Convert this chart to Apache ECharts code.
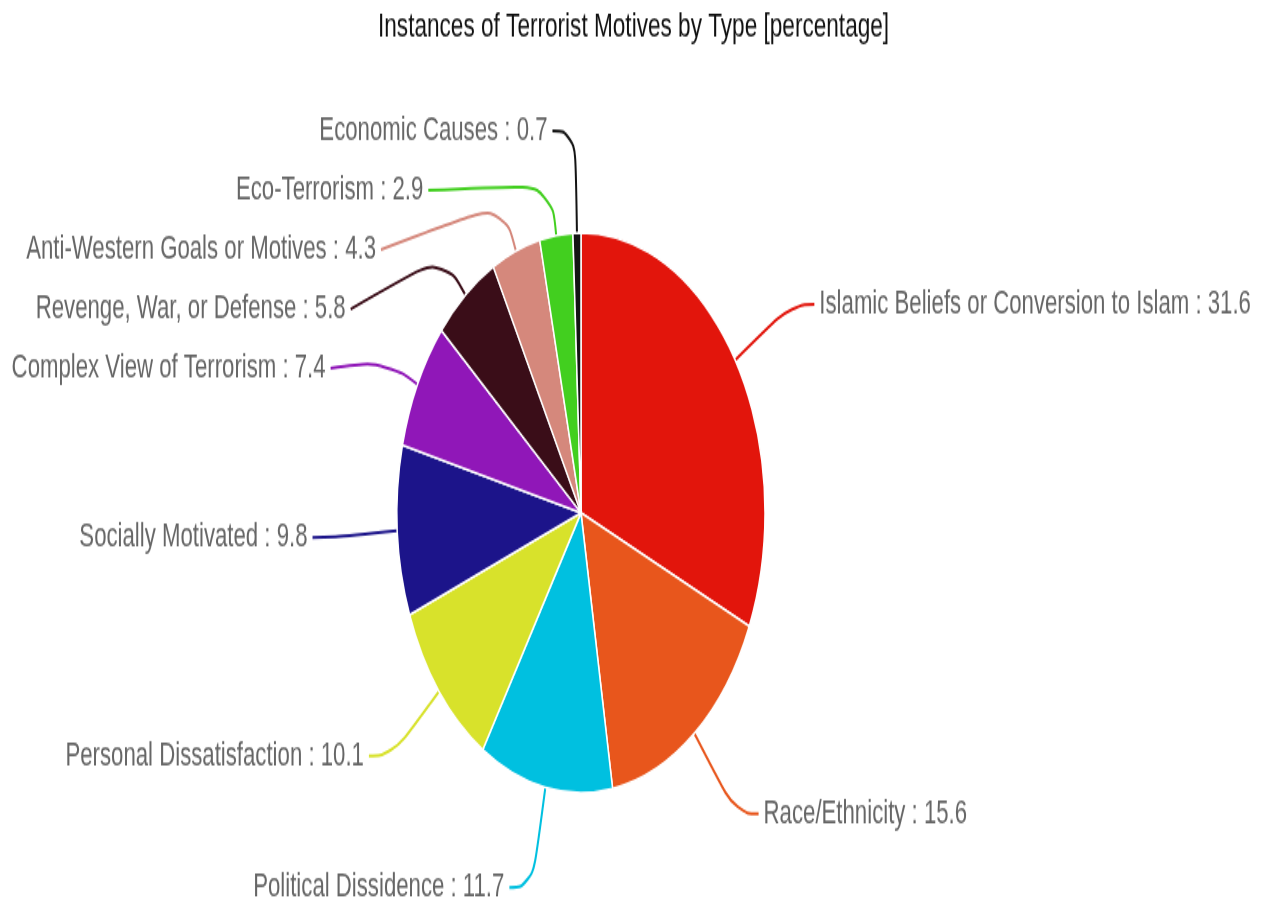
<!DOCTYPE html>
<html>
<head>
<meta charset="utf-8">
<title>Instances of Terrorist Motives by Type</title>
<script src="https://cdn.jsdelivr.net/npm/echarts@6/dist/echarts.min.js"></script>
<style>
  html, body { margin: 0; padding: 0; background: #ffffff; }
  #frame { position: relative; width: 1272px; height: 905px; overflow: hidden; }
  /* The chart is drawn on a shorter canvas and stretched vertically. */
  #chart { position: absolute; left: 0; top: 0; width: 1272px; height: 625px;
           transform: scaleY(1.5217); transform-origin: 0 0; }
</style>
</head>
<body>
<div id="frame"><div id="chart"></div></div>
<script>
// Motive categories, clockwise from 12 o'clock
const motives = [
  'Islamic Beliefs or Conversion to Islam',
  'Race/Ethnicity',
  'Political Dissidence',
  'Personal Dissatisfaction',
  'Socially Motivated',
  'Complex View of Terrorism',
  'Revenge, War, or Defense',
  'Anti-Western Goals or Motives',
  'Eco-Terrorism',
  'Economic Causes'
];

// Share of instances, percent
const shares = [31.6, 15.6, 11.7, 10.1, 9.8, 7.4, 5.8, 4.3, 2.9, 0.7];

const sliceColors = [
  '#e2150c', '#e8561c', '#00c0e0', '#d8e22b', '#1c148a',
  '#9017b8', '#3a0d18', '#d5887c', '#42cf1f', '#141414'
];

const pieCenter = [581, 337];
const pieRadius = 184;
const guideLength = 67;   // first leg of a label line
const guideBend = 34;     // first leg for labels pushed aside to avoid overlap

const chart = echarts.init(document.getElementById('chart'), null, { renderer: 'canvas' });

// Labels that were shifted to avoid overlap keep a short radial first leg,
// so their guide line bends over toward the label instead of running flat.
function bendShiftedGuides(params) {
  const pts = params.labelLinePoints;
  if (!pts || pts.length < 3) return {};
  const p0 = pts[0];
  const ux = (p0[0] - pieCenter[0]) / pieRadius;
  const uy = (p0[1] - pieCenter[1]) / pieRadius;
  const naturalY = pieCenter[1] + uy * (pieRadius + guideLength);
  if (Math.abs(naturalY - pts[2][1]) < 3) return {};
  const p1 = [p0[0] + ux * guideBend, p0[1] + uy * guideBend];
  return { labelLinePoints: [p0.slice(), p1, pts[2].slice()] };
}

chart.setOption({
  backgroundColor: '#ffffff',
  animation: false,
  color: sliceColors,
  title: {
    text: 'Instances of Terrorist Motives by Type [percentage]',
    left: 373,
    top: 1,
    textStyle: {
      fontFamily: 'Liberation Sans, Arial, sans-serif',
      fontSize: 22.6,
      fontWeight: 'normal',
      color: '#111111'
    }
  },
  series: [{
    type: 'pie',
    center: pieCenter,
    radius: pieRadius,
    startAngle: 90,
    clockwise: true,
    avoidLabelOverlap: true,
    itemStyle: { borderColor: '#ffffff', borderWidth: 1.5 },
    label: {
      show: true,
      formatter: '{b} : {c}',
      fontFamily: 'Liberation Sans, Arial, sans-serif',
      fontSize: 22.2,
      lineHeight: 37,
      color: '#666666'
    },
    labelLine: {
      show: true,
      smooth: 0.5,
      length: guideLength,
      length2: 23,
      lineStyle: { width: 2 }
    },
    labelLayout: bendShiftedGuides,
    data: motives.map((name, i) => ({ name: name, value: shares[i] }))
  }]
});
</script>
</body>
</html>
